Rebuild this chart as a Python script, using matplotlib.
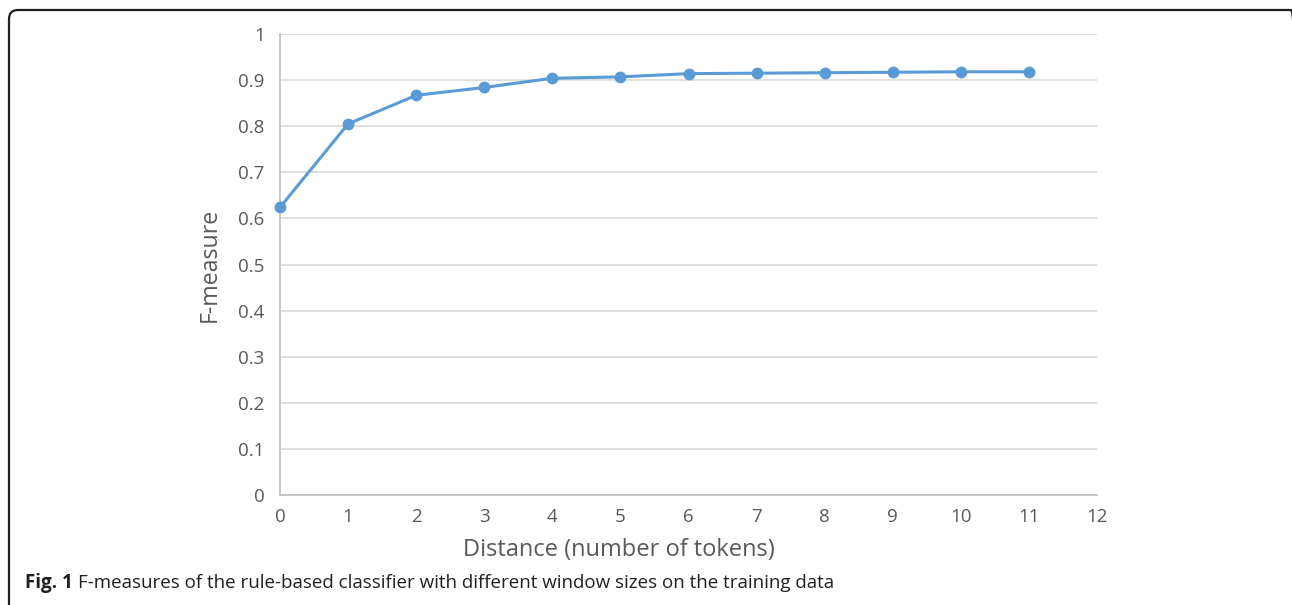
import matplotlib
matplotlib.use("Agg")
import matplotlib.pyplot as plt
from matplotlib.patches import FancyBboxPatch

# window size (tokens) vs F-measure
distance = [0, 1, 2, 3, 4, 5, 6, 7, 8, 9, 10, 11]
f_measure = [0.624, 0.805, 0.867, 0.884, 0.904, 0.907, 0.914, 0.915, 0.916, 0.917, 0.918, 0.918]

x_ticks = list(range(0, 13))
y_ticks = [0, 0.1, 0.2, 0.3, 0.4, 0.5, 0.6, 0.7, 0.8, 0.9, 1]
y_ticklabels = ["0", "0.1", "0.2", "0.3", "0.4", "0.5", "0.6", "0.7", "0.8", "0.9", "1"]

plt.rcParams["font.family"] = ["Open Sans", "DejaVu Sans"]

W, H = 1292, 605
fig = plt.figure(figsize=(W / 100, H / 100), dpi=100)

# rounded frame around the figure (runs off the right/bottom edges), in inches
frame = FancyBboxPatch((0.09, -0.3), 13.0 - 0.09, (H - 10) / 100 + 0.3,
                       boxstyle="round,pad=0,rounding_size=0.09",
                       transform=fig.dpi_scale_trans, fill=False,
                       edgecolor="#231f20", linewidth=1.6)
fig.patches.append(frame)

ax = fig.add_axes([280 / W, (H - 495) / H, (1097 - 280) / W, (495 - 34) / H])

ax.plot(distance, f_measure, color="#5b9bd5", linewidth=2.2,
        marker="o", markersize=7.5, zorder=3, clip_on=False)

ax.set_xlim(0, 12)
ax.set_ylim(0, 1)
ax.set_xticks(x_ticks)
ax.set_yticks(y_ticks)
ax.set_yticklabels(y_ticklabels)
ax.grid(axis="y", color="#d9d9d9", linewidth=1.2)
ax.set_axisbelow(True)

for s in ["top", "right"]:
    ax.spines[s].set_visible(False)
for s in ["left", "bottom"]:
    ax.spines[s].set_color("#bfbfbf")
    ax.spines[s].set_linewidth(1.2)

ax.tick_params(axis="both", length=0, labelsize=13.5, labelcolor="#595959")
ax.tick_params(axis="x", pad=9)
ax.tick_params(axis="y", pad=11)

ax.set_xlabel("Distance (number of tokens)", fontsize=17, color="#595959",
              labelpad=9, x=(619 - 280) / (1097 - 280))
ax.set_ylabel("F-measure", fontsize=16.7, color="#595959", labelpad=12)

cap_y = 1 - 583 / H
t1 = fig.text(25 / W, cap_y, "Fig. 1", fontsize=13.5, fontweight="bold",
              color="#231f20", va="center", ha="left")
fig.canvas.draw()
bb = t1.get_window_extent()
fig.text((bb.x1 + 5) / W, cap_y,
         "F-measures of the rule-based classifier with different window sizes on the training data",
         fontsize=13.5, color="#231f20", va="center", ha="left")

fig.savefig("out.png", dpi=100)
